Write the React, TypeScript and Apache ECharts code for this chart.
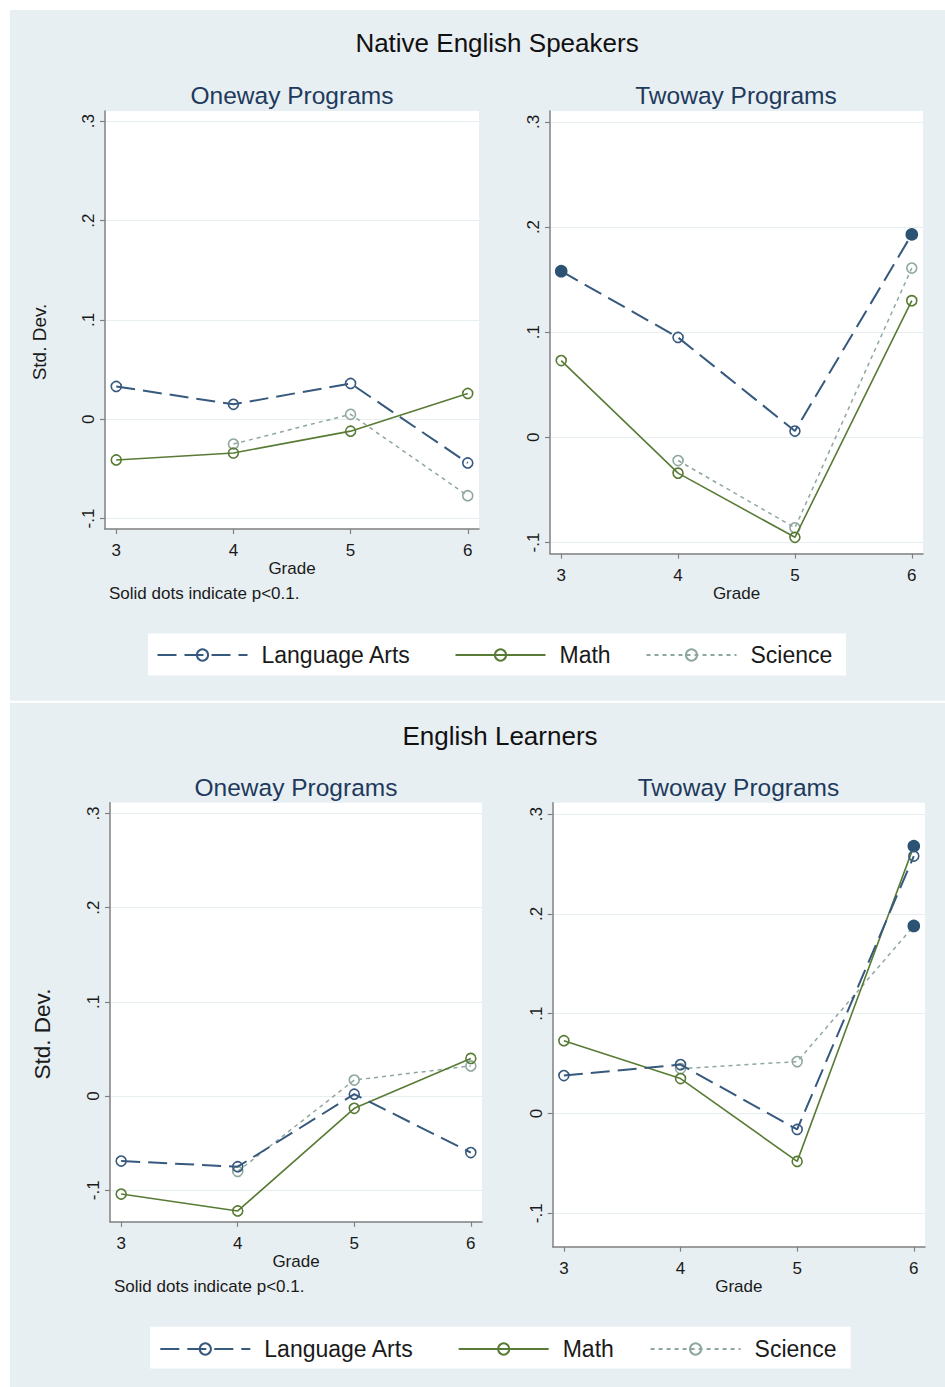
import { useEffect, useRef } from 'react';
import * as echarts from 'echarts';

// ---------- data ----------
const GRADES = [3, 4, 5, 6];
const Y_TICKS = [-0.1, 0, 0.1, 0.2, 0.3];
const SERIES_NAMES = ['Language Arts', 'Math', 'Science'];
const PANEL_TITLES = ['Native English Speakers', 'English Learners'];
const SUB_TITLES = ['Oneway Programs', 'Twoway Programs'];
const NOTE = 'Solid dots indicate p<0.1.';

// Native English Speakers – Oneway
const nesOneLA = [0.033, 0.015, 0.036, -0.044];
const nesOneMath = [-0.041, -0.034, -0.012, 0.026];
const nesOneSci = [null, -0.025, 0.005, -0.077];
const nesOneLASig = [0, 0, 0, 0];
const nesOneMathSig = [0, 0, 0, 0];
const nesOneSciSig = [0, 0, 0, 0];

// Native English Speakers – Twoway
const nesTwoLA = [0.158, 0.095, 0.006, 0.193];
const nesTwoMath = [0.073, -0.034, -0.095, 0.13];
const nesTwoSci = [null, -0.022, -0.086, 0.161];
const nesTwoLASig = [1, 0, 0, 1];
const nesTwoMathSig = [0, 0, 0, 0];
const nesTwoSciSig = [0, 0, 0, 0];

// English Learners – Oneway
const elOneLA = [-0.069, -0.075, 0.002, -0.06];
const elOneMath = [-0.104, -0.122, -0.013, 0.04];
const elOneSci = [null, -0.08, 0.017, 0.032];
const elOneLASig = [0, 0, 0, 0];
const elOneMathSig = [0, 0, 0, 0];
const elOneSciSig = [0, 0, 0, 0];

// English Learners – Twoway
const elTwoLA = [0.038, 0.049, -0.016, 0.258];
const elTwoMath = [0.073, 0.035, -0.048, 0.268];
const elTwoSci = [null, 0.045, 0.052, 0.188];
const elTwoLASig = [0, 0, 0, 0];
const elTwoMathSig = [0, 0, 0, 1];
const elTwoSciSig = [0, 0, 0, 1];

// ---------- styles / layout ----------
const FONT = "'Liberation Sans', Arial, Helvetica, sans-serif";
const BG = '#e8eff2';
const C_LA = '#36597d';
const C_MATH = '#587b35';
const C_SCI = '#8fa89f';
const C_SOLID = '#2c5373';
const AXIS_C = '#808080';
const TXT = '#1a1a1a';
const SUB_C = '#1e3a5c';
const X_MIN = 2.904;
const X_MAX = 6.096;

const SERIES_STYLE = [
  { color: C_LA, width: 2, type: [19, 8] },
  { color: C_MATH, width: 1.6, type: 'solid' },
  { color: C_SCI, width: 1.5, type: [4, 4] },
];

const panels = [
  { grid: { left: 105, top: 111, width: 374, height: 418 }, yMin: -0.1105, yMax: 0.3103,
    vals: [nesOneLA, nesOneMath, nesOneSci], sig: [nesOneLASig, nesOneMathSig, nesOneSciSig] },
  { grid: { left: 550, top: 111, width: 373, height: 442.6 }, yMin: -0.1105, yMax: 0.3103,
    vals: [nesTwoLA, nesTwoMath, nesTwoSci], sig: [nesTwoLASig, nesTwoMathSig, nesTwoSciSig] },
  { grid: { left: 110, top: 802.7, width: 372, height: 419.1 }, yMin: -0.1335, yMax: 0.3115,
    vals: [elOneLA, elOneMath, elOneSci], sig: [elOneLASig, elOneMathSig, elOneSciSig] },
  { grid: { left: 552.7, top: 802.7, width: 372.3, height: 444 }, yMin: -0.1335, yMax: 0.3115,
    vals: [elTwoLA, elTwoMath, elTwoSci], sig: [elTwoLASig, elTwoMathSig, elTwoSciSig] },
];

const yFmt = (v: number) => {
  const r = Math.round(v * 10) / 10;
  if (r === 0) return '0';
  return r.toFixed(1).replace('0.', '.');
};

function buildOption() {
  const grids: any[] = [];
  const xAxes: any[] = [];
  const yAxes: any[] = [];
  const series: any[] = [];

  panels.forEach((p, gi) => {
    grids.push({ ...p.grid, show: true, backgroundColor: '#ffffff', borderWidth: 0, containLabel: false });
    xAxes.push({
      type: 'value', gridIndex: gi, min: X_MIN, max: X_MAX,
      axisLine: { show: true, onZero: false, lineStyle: { color: AXIS_C, width: 1.5 } },
      axisTick: { show: true, length: 5, customValues: GRADES, lineStyle: { color: AXIS_C, width: 1.2 } },
      axisLabel: { customValues: GRADES, margin: 13, fontSize: 17, color: TXT, fontFamily: FONT },
      splitLine: { show: false },
      name: 'Grade', nameLocation: 'middle', nameGap: 31,
      nameTextStyle: { fontSize: 17, color: TXT, fontFamily: FONT },
    });
    yAxes.push({
      type: 'value', gridIndex: gi, min: p.yMin, max: p.yMax,
      axisLine: { show: true, onZero: false, lineStyle: { color: AXIS_C, width: 1.5 } },
      axisTick: { show: true, length: 5, customValues: Y_TICKS, lineStyle: { color: AXIS_C, width: 1.2 } },
      axisLabel: { customValues: Y_TICKS, rotate: 90, margin: 8, fontSize: 17, color: TXT, fontFamily: FONT, formatter: yFmt },
      splitLine: { show: true, lineStyle: { color: '#e6eef1', width: 1.2 } },
    });
    SERIES_NAMES.forEach((name, si) => {
      const st = SERIES_STYLE[si];
      const vals = p.vals[si];
      const sig = p.sig[si];
      const data: any[] = [];
      GRADES.forEach((g, k) => {
        const v = vals[k];
        if (v === null || v === undefined) return;
        if (sig[k]) {
          data.push({ value: [g, v], symbolSize: 11, itemStyle: { color: C_SOLID, borderColor: C_SOLID } });
        } else {
          data.push({ value: [g, v] });
        }
      });
      series.push({
        type: 'line', name, xAxisIndex: gi, yAxisIndex: gi, data,
        symbol: 'circle', symbolSize: 10, showAllSymbol: true,
        itemStyle: { color: 'rgba(255,255,255,0)', borderColor: st.color, borderWidth: 1.6 },
        lineStyle: { color: st.color, width: st.width, type: st.type },
        emphasis: { disabled: true }, silent: true, z: 3 - si + 2,
      });
    });
  });

  const legendBase = (name: string, left: number, top: number) => ({
    data: [name], left, top, padding: 0, orient: 'horizontal',
    itemWidth: 90, itemHeight: 14, selectedMode: false,
    textStyle: { fontSize: 23, color: TXT, fontFamily: FONT, padding: [0, 0, 0, 9] },
  });

  const legends = [
    legendBase(SERIES_NAMES[0], 156.5, 643.5),
    legendBase(SERIES_NAMES[1], 454.5, 643.5),
    legendBase(SERIES_NAMES[2], 645.5, 643.5),
    legendBase(SERIES_NAMES[0], 159.3, 1337.5),
    legendBase(SERIES_NAMES[1], 457.7, 1337.5),
    legendBase(SERIES_NAMES[2], 649.6, 1337.5),
  ];

  const txt = (text: string, x: number, y: number, size: number, color: string, opts: any = {}) => ({
    type: 'text', x, y, z: 10, rotation: opts.rotation || 0, silent: true,
    style: { text, fill: color, font: `${size}px ${FONT}`, align: opts.align || 'center', verticalAlign: 'middle' },
  });

  const graphic: any[] = [
    { type: 'rect', z: -5, silent: true, shape: { x: 10, y: 10, width: 935, height: 690.7 }, style: { fill: BG } },
    { type: 'rect', z: -5, silent: true, shape: { x: 10, y: 702.7, width: 935, height: 684.3 }, style: { fill: BG } },
    { type: 'rect', z: -4, silent: true, shape: { x: 148, y: 633.4, width: 698, height: 42 }, style: { fill: '#ffffff' } },
    { type: 'rect', z: -4, silent: true, shape: { x: 150, y: 1326.7, width: 700.7, height: 41.8 }, style: { fill: '#ffffff' } },
    txt(PANEL_TITLES[0], 497, 43, 26, '#111'),
    txt(PANEL_TITLES[1], 500, 735.5, 26, '#111'),
    txt(SUB_TITLES[0], 292, 95, 24.5, SUB_C),
    txt(SUB_TITLES[1], 736, 95, 24.5, SUB_C),
    txt(SUB_TITLES[0], 296, 787, 24.5, SUB_C),
    txt(SUB_TITLES[1], 738.5, 787, 24.5, SUB_C),
    txt('Std. Dev.', 39.5, 342, 19, TXT, { rotation: Math.PI / 2 }),
    txt('Std. Dev.', 42.5, 1034, 22.5, TXT, { rotation: Math.PI / 2 }),
    txt(NOTE, 109, 593.5, 17, TXT, { align: 'left' }),
    txt(NOTE, 114, 1286.3, 17, TXT, { align: 'left' }),
  ];

  return {
    animation: false,
    backgroundColor: '#ffffff',
    grid: grids,
    xAxis: xAxes,
    yAxis: yAxes,
    series,
    legend: legends,
    graphic,
  };
}

export default function App() {
  const ref = useRef<HTMLDivElement>(null);
  useEffect(() => {
    if (!ref.current) return;
    const chart = echarts.init(ref.current, null, { renderer: 'svg' });
    chart.setOption(buildOption() as any);
    return () => chart.dispose();
  }, []);
  return <div ref={ref} style={{ position: 'absolute', left: 0, top: 0, width: 945, height: 1387 }} />;
}
